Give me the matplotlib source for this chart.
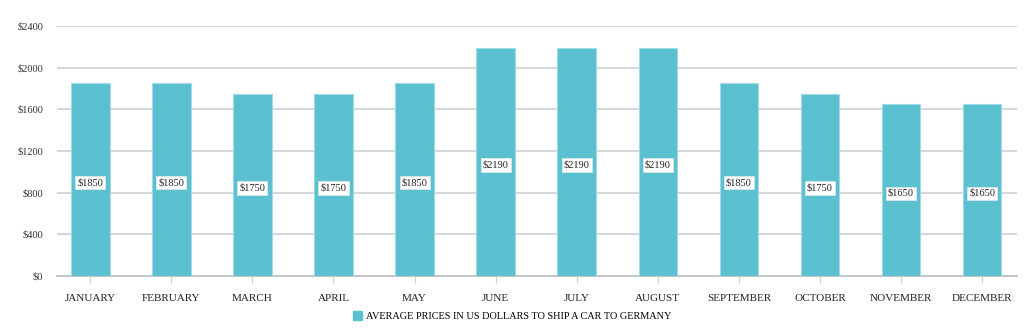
import matplotlib
matplotlib.use("Agg")
import matplotlib.pyplot as plt
from matplotlib.patches import Patch

months = ["JANUARY", "FEBRUARY", "MARCH", "APRIL", "MAY", "JUNE", "JULY",
          "AUGUST", "SEPTEMBER", "OCTOBER", "NOVEMBER", "DECEMBER"]
prices = [1850, 1850, 1750, 1750, 1850, 2190, 2190, 2190, 1850, 1750, 1650, 1650]
yticks = [0, 400, 800, 1200, 1600, 2000, 2400]
series_name = "AVERAGE PRICES IN US DOLLARS TO SHIP A CAR TO GERMANY"

plt.rcParams['font.family'] = ['Liberation Serif', 'DejaVu Serif']

fig = plt.figure(figsize=(10.24, 3.36), dpi=100)
ax = fig.add_axes([57/1024, 1-276/336, (1017-57)/1024, 250/336])

bar_color = "#5bc0d0"
x = list(range(len(months)))
ax.bar(x, prices, width=0.475, color=bar_color, edgecolor="#9fdbe4", linewidth=0.8, zorder=3)

for xi, v in zip(x, prices):
    ax.text(xi, v/2 - 30, f"${v}", ha="center", va="center", fontsize=7.5, color="#222222",
            zorder=4,
            bbox=dict(boxstyle="square,pad=0.2", facecolor="white", edgecolor="#d8e8ec", linewidth=0.6))

ax.set_xlim(-0.41, len(months) - 1 + 0.43)
ax.set_ylim(0, 2400)
ax.set_yticks(yticks)
ax.set_yticklabels([f"${t}" for t in yticks], fontsize=7.5, color="#333333")
ax.set_xticks(x)
ax.set_xticklabels(months, fontsize=8, color="#222222")
ax.yaxis.grid(True, color="#c9d1d5", linewidth=1.2, zorder=0)
ax.tick_params(axis="y", length=0, pad=10)
ax.tick_params(axis="x", length=5, color="#c9d1d5", pad=8)
for s in ["top", "right", "left"]:
    ax.spines[s].set_visible(False)
ax.spines["bottom"].set_color("#c0c8cc")
ax.spines["bottom"].set_linewidth(1.5)
ax.set_axisbelow(True)

handle = Patch(facecolor=bar_color, edgecolor=bar_color)
fig.legend([handle], [series_name], loc="center", bbox_to_anchor=(0.5, 1-316/336),
           frameon=False, fontsize=7.4, handlelength=0.9, handleheight=0.9, handletextpad=0.4)

fig.savefig("out.png", dpi=100)
